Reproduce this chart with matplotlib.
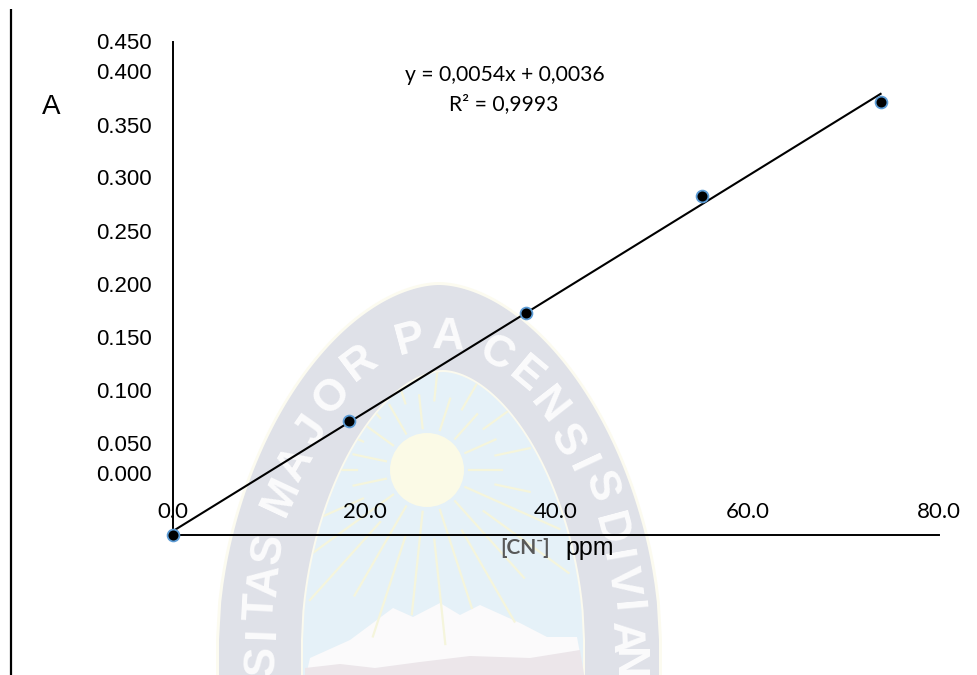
import matplotlib
matplotlib.use("Agg")
import matplotlib.pyplot as plt
import numpy as np
from matplotlib.patches import Polygon, Circle

# calibration points
conc = [0.0, 18.4, 36.9, 55.3, 73.9]
absorb = [0.0, 0.104, 0.203, 0.309, 0.395]
slope = 0.0054
intercept = 0.0036

x_ticks = [0, 20, 40, 60, 80]
x_labels = ["0.0", "20.0", "40.0", "60.0", "80.0"]
y_labels = ["0.000", "0.050", "0.100", "0.150", "0.200", "0.250", "0.300", "0.350", "0.400", "0.450"]
# the labels do not sit on the real scale in the original, they are shifted
y_label_pos = [0.0566, 0.0840, 0.1323, 0.1807, 0.2291, 0.2775, 0.3268, 0.3742, 0.4235, 0.4509]

W, H = 977, 675
fig = plt.figure(figsize=(W / 100, H / 100), dpi=100, facecolor="white")

# background seal, in pixel coordinates
bg = fig.add_axes([0, 0, 1, 1], zorder=0)
bg.set_xlim(0, W)
bg.set_ylim(H, 0)
bg.axis("off")


def arch(cx, cy, a, b, n=200):
    # pointed arch, runs out past the bottom of the picture
    t = np.linspace(-1, 1, n)
    xs = cx + t * a
    ys = cy - b * (1 - np.abs(t) ** 1.8) ** (1 / 1.8)
    xs = np.concatenate([[cx - a], xs, [cx + a]])
    ys = np.concatenate([[H + 5], ys, [H + 5]])
    return np.column_stack([xs, ys])


bg.add_patch(Polygon(arch(439, 640, 223, 358), fc="#fcfbf0", ec="none"))
bg.add_patch(Polygon(arch(439, 640, 220, 355), fc="#dfe1e8", ec="none"))
bg.add_patch(Polygon(arch(443, 640, 142, 270), fc="#fbfaee", ec="none"))
inner = Polygon(arch(443, 640, 140, 268), fc="#e5f1f8", ec="none")
bg.add_patch(inner)

# sun and rays
sun_x, sun_y = 427, 470
angles = np.deg2rad(np.arange(0, 360, 12))
for i, ang in enumerate(angles):
    r1 = 42 if i % 2 == 0 else 70
    r2 = 75 if i % 2 == 0 else 105
    if np.sin(ang) > 0.3:
        r2 += 70
    ray, = bg.plot([sun_x + r1 * np.cos(ang), sun_x + r2 * np.cos(ang)],
                   [sun_y + r1 * np.sin(ang), sun_y + r2 * np.sin(ang)],
                   color="#f5f5dc", lw=1.6)
    ray.set_clip_path(inner)
bg.add_patch(Circle((sun_x, sun_y), 37, fc="#fbfae6", ec="none"))

# mountain
snow = [(310, 658), (350, 640), (393, 608), (413, 617), (440, 603), (460, 615), (480, 605),
        (520, 623), (547, 637), (577, 637), (585, 680), (305, 680)]
rock = [(305, 668), (340, 664), (375, 668), (420, 662), (470, 656), (530, 658), (580, 650),
        (585, 680), (305, 680)]
bg.add_patch(Polygon(snow, fc="#fbfafb", ec="none"))
bg.add_patch(Polygon(rock, fc="#ece6ea", ec="none"))

# seal lettering
letters = [("S", 263, 661, 88), ("I", 263, 632, 88), ("T", 262, 607, 87), ("A", 266, 580, 85),
           ("S", 269, 549, 82), ("M", 281, 496, 65), ("A", 296, 463, 60), ("J", 312, 431, 55),
           ("O", 332, 396, 48), ("R", 360, 363, 37), ("P", 410, 340, 15), ("A", 449, 337, -3),
           ("C", 496, 354, -28), ("E", 526, 376, -40), ("N", 548, 407, -52), ("S", 566, 441, -60),
           ("I", 581, 466, -65), ("S", 600, 487, -72), ("D", 609, 530, -75), ("I", 614, 557, -80),
           ("V", 622, 581, -83), ("I", 625, 607, -85), ("A", 624, 638, -88), ("N", 627, 664, -90)]
for ch, lx, ly, rot in letters:
    bg.text(lx, ly, ch, fontsize=32, fontweight="bold", family="Liberation Sans", color="#fbfbfc",
            rotation=rot, ha="center", va="center", rotation_mode="anchor")

# left rule of the page
bg.plot([11, 11], [9, H], color="black", lw=1.6, solid_capstyle="butt")

# the chart itself, axes a bit taller than the spine so the top label still draws
y_top = 0.47
ax_height = y_top * (535 - 42) / 0.45
ax = fig.add_axes([173 / W, 1 - 535 / H, (939 - 173) / W, ax_height / H], zorder=2)
ax.patch.set_alpha(0)
ax.spines["top"].set_visible(False)
ax.spines["right"].set_visible(False)
ax.spines["left"].set_linewidth(1.4)
ax.spines["bottom"].set_linewidth(1.4)
ax.spines["left"].set_bounds(0, 0.45)

fit_x = np.array([conc[0], conc[-1]])
ax.plot(fit_x, slope * fit_x + intercept, color="black", lw=1.5, zorder=3, clip_on=False)
ax.plot(conc, absorb, "o", ms=8.5, mfc="black", mec="#5b9bd5", mew=1.3, zorder=4, clip_on=False)

ax.set_xticks(x_ticks)
ax.set_xticklabels(x_labels, family="Lato", fontsize=16)
ax.set_yticks(y_label_pos)
ax.set_yticklabels(y_labels, family="Liberation Sans", fontsize=16)
ax.tick_params(axis="x", length=0, pad=-23.5)
ax.tick_params(axis="y", length=0, pad=15)
# limits last, set_yticks widens them otherwise
ax.set_xlim(0, 80)
ax.set_ylim(0, y_top)

fig.text(51 / W, 1 - 107 / H, "A", family="Liberation Sans", fontsize=20, ha="center", va="center")
fig.text(505 / W, 1 - 75 / H, "y = 0,0054x + 0,0036", family="Lato", fontsize=15.2, ha="center", va="center")
fig.text(504 / W, 1 - 104 / H, "R² = 0,9993", family="Lato", fontsize=15.2, ha="center", va="center")
fig.text(525 / W, 1 - 548 / H, "[CN⁻]", family=["Lato", "DejaVu Sans"], fontsize=15, fontweight="bold",
         color="#595959", ha="center", va="center")
fig.text(590 / W, 1 - 548 / H, "ppm", family="Liberation Sans", fontsize=18, ha="center", va="center")

fig.savefig("out.png", dpi=100)
